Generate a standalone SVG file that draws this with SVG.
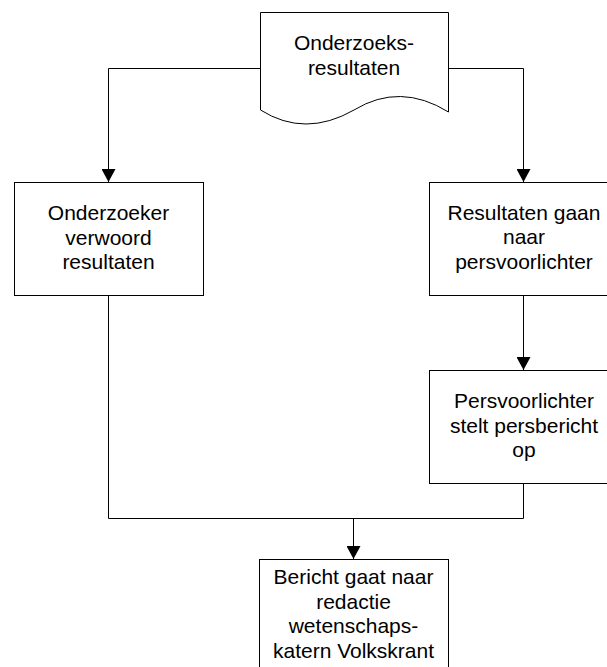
<svg xmlns="http://www.w3.org/2000/svg" width="607" height="667" viewBox="0 0 607 667">
<style>
.box{fill:#fff;stroke:#000;stroke-width:1}
.lbl{font-family:"Liberation Sans",Arial,sans-serif;font-size:21px;fill:#000;text-anchor:middle}
.con{fill:none;stroke:#000;stroke-width:1}
</style>
<defs>
<marker id="ah" markerUnits="userSpaceOnUse" markerWidth="14" markerHeight="14" refX="13" refY="7" orient="auto">
<path d="M0,0 L13,7 L0,14 z" fill="#000"/>
</marker>
</defs>
<rect width="607" height="667" fill="#fff"/>
<g id="connectors">
<path class="con" d="M260.5,68.5 H108.5 V182" marker-end="url(#ah)"/>
<path class="con" d="M448.5,68.5 H523.5 V182" marker-end="url(#ah)"/>
<path class="con" d="M523.5,295 V370" marker-end="url(#ah)"/>
<path class="con" d="M108.5,295 V518.5 H523.5 V483"/>
<path class="con" d="M353.5,518.5 V559" marker-end="url(#ah)"/>
</g>
<g id="doc">
<path class="box" d="M260.5,12.5 H448.5 V112 Q400,82 354,110 Q305,138 260.5,110 Z"/>
<text class="lbl" x="354" y="50">Onderzoeks-</text>
<text class="lbl" x="354" y="75">resultaten</text>
</g>
<g id="onderzoeker">
<rect class="box" x="14.5" y="182.5" width="189" height="113"/>
<text class="lbl" x="108.5" y="220">Onderzoeker</text>
<text class="lbl" x="108.5" y="244.5">verwoord</text>
<text class="lbl" x="108.5" y="269">resultaten</text>
</g>
<g id="resultaten">
<rect class="box" x="429.5" y="182.5" width="189" height="113"/>
<text class="lbl" x="524" y="219.5">Resultaten gaan</text>
<text class="lbl" x="524" y="244">naar</text>
<text class="lbl" x="524" y="268.5">persvoorlichter</text>
</g>
<g id="persvoorlichter">
<rect class="box" x="429.5" y="370.5" width="189" height="113"/>
<text class="lbl" x="524" y="408">Persvoorlichter</text>
<text class="lbl" x="524" y="432.5">stelt persbericht</text>
<text class="lbl" x="524" y="457">op</text>
</g>
<g id="bericht">
<rect class="box" x="259.5" y="559.5" width="189" height="130"/>
<text class="lbl" x="353.5" y="584">Bericht gaat naar</text>
<text class="lbl" x="353.5" y="608.5">redactie</text>
<text class="lbl" x="353.5" y="633">wetenschaps-</text>
<text class="lbl" x="353.5" y="657.5">katern Volkskrant</text>
</g>
</svg>
